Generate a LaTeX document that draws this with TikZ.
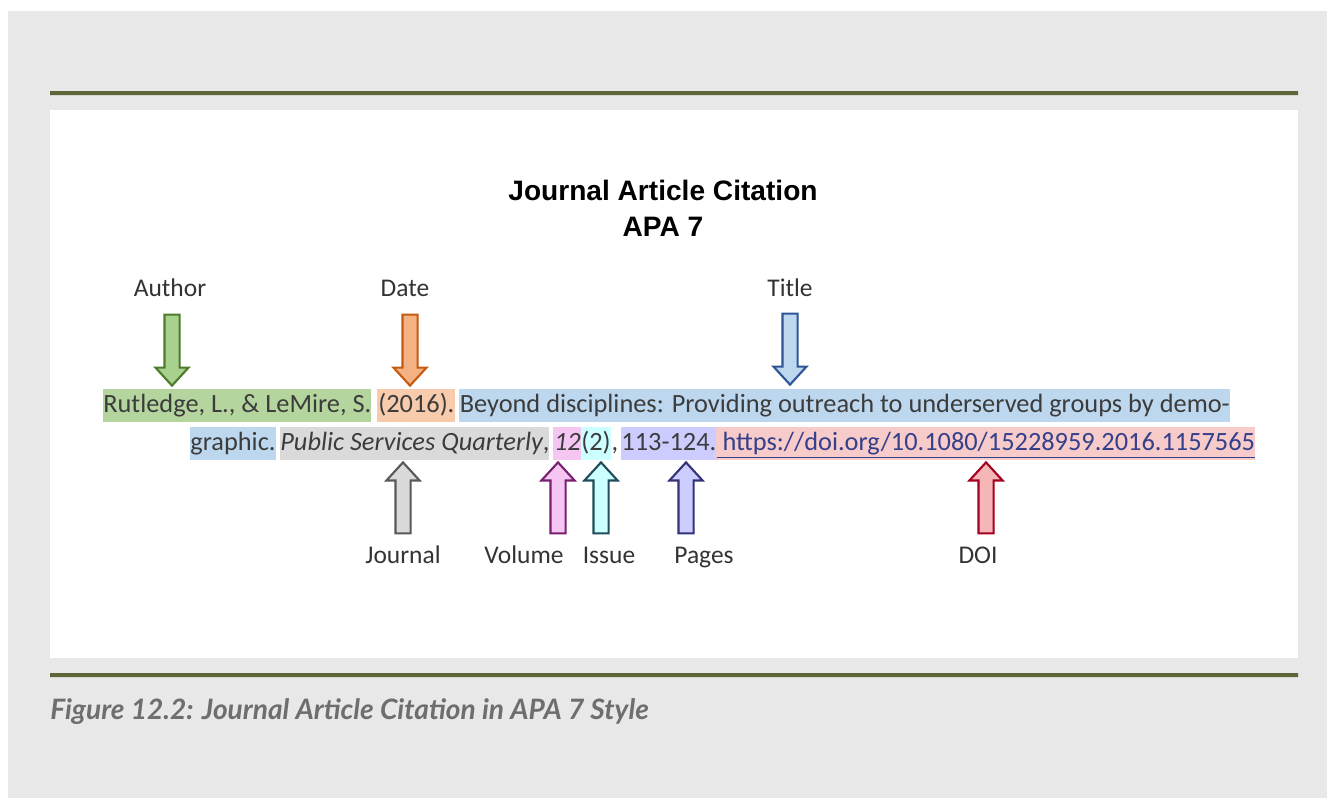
\documentclass[tikz,border=0pt]{standalone}
\usepackage{fontspec}
\setmainfont{Carlito}
\newfontfamily\headfont{Liberation Sans}
\newfontfamily\capfont{Lato}
\usetikzlibrary{shapes.arrows, positioning}

\definecolor{bggray}{HTML}{E8E8E8}
\definecolor{olivebar}{RGB}{94,102,56}
\definecolor{captext}{HTML}{6E6E6E}
\definecolor{citetext}{HTML}{3C3C3C}
\definecolor{lbltext}{HTML}{333333}
\definecolor{doiblue}{HTML}{34408A}
% highlights
\definecolor{hlgreen}{HTML}{B4D69E}
\definecolor{hlorange}{HTML}{F8CBAD}
\definecolor{hlblue}{HTML}{BDD7EE}
\definecolor{hlgray}{HTML}{DADADA}
\definecolor{hlpink}{HTML}{F5C6F2}
\definecolor{hlcyan}{HTML}{CCFFFF}
\definecolor{hlpurple}{HTML}{CCCCFF}
\definecolor{hlred}{HTML}{F8CBCB}
% arrow outlines
\definecolor{dgreen}{HTML}{4E7A2C}
\definecolor{dorange}{HTML}{C55A11}
\definecolor{dblue}{HTML}{2F5597}
\definecolor{dgray}{HTML}{595959}
\definecolor{dpink}{HTML}{7A1F6E}
\definecolor{dcyan}{HTML}{1F4E5A}
\definecolor{dpurple}{HTML}{33337A}
\definecolor{dred}{HTML}{A50021}
\definecolor{fgreen}{HTML}{A9D18E}
\definecolor{forange}{HTML}{F4B183}
\definecolor{fred}{HTML}{F4B6B6}

\def\pu{0.02cm}

\tikzset{
    seg/.style={anchor=west, inner sep=0pt, minimum height=33*\pu, text=citetext,
        text height=11.5pt, text depth=3.5pt, font=\fontsize{15}{18}\selectfont},
    lbl/.style={inner sep=0pt, text=lbltext, text height=10.5pt, text depth=3pt,
        font=\fontsize{14.5}{17}\selectfont},
    blk/.style 2 args={single arrow, fill=#1, draw=#2, line width=1.2pt,
        minimum height=71*\pu, inner sep=6.5*\pu, single arrow head extend=9*\pu,
        single arrow tip angle=85}
}

\begin{document}
\begin{tikzpicture}[x=0.02cm, y=-0.02cm]
        \useasboundingbox (0,0) rectangle (1327,798);
        \fill[bggray] (8,11) rectangle (1327,798);
        \fill[white] (50,110) rectangle (1298,658);
        \fill[olivebar] (50,91) rectangle (1298,95) (50,673) rectangle (1298,677);
        
        \node[font=\headfont\bfseries\fontsize{16}{20}\selectfont] (head) at (663,190) {Journal Article Citation};
        \node[font=\headfont\bfseries\fontsize{16}{20}\selectfont] (apa) at (663,227) {APA 7};
        
        % first line of the reference
        \node[seg, fill=hlgreen, minimum width=267*\pu] (author) at (103,405.5) {Rutledge, L., \& LeMire, S.};
        \node[seg, fill=hlorange, minimum width=78*\pu] (date) at (377,405.5) {(2016).};
        \node[seg, fill=hlblue, minimum width=771*\pu] (title) at (459,405.5) {Beyond disciplines: Providing outreach to underserved groups by demo-};
        
        % second line
        \node[seg, fill=hlblue, minimum width=85*\pu] (titletail) at (190,443.5) {graphic.};
        \node[seg, fill=hlgray, minimum width=264*\pu] (journal) at (280,443.5) {\textit{Public Services Quarterly},};
        \node[seg, fill=hlpink, minimum width=28*\pu] (volume) at (553,443.5) {\textit{12}};
        \node[seg, fill=hlcyan, minimum width=27*\pu] (issue) at (581,443.5) {(2)};
        \node[seg, minimum width=13*\pu] (comma) at (608,443.5) {,};
        \node[seg, fill=hlpurple, minimum width=95*\pu] (pages) at (621,443.5) {113-124.};
        \node[seg, fill=hlred, minimum width=539*\pu] (doi) at (716,443.5) {\textcolor{doiblue}{\underline{\ https://doi.org/10.1080/15228959.2016.1157565}}};
        
        \node[lbl] (lauthor) at (170,290) {Author};
        \node[lbl] (ldate) at (405,290) {Date};
        \node[lbl] (ltitle) at (790,290) {Title};
        \node[blk={fgreen}{dgreen}, rotate=-90] (aauthor) at (172,346) {};
        \node[blk={forange}{dorange}, rotate=-90] (adate) at (410,346) {};
        \node[blk={hlblue}{dblue}, rotate=-90] (atitle) at (790,345) {};
        
        \foreach \n/\x/\lx/\t/\f/\d in {jour/403/403/Journal/hlgray/dgray,
                vol/558/524/Volume/hlpink/dpink,
                iss/601/609/Issue/hlcyan/dcyan,
                pag/686/704/Pages/hlpurple/dpurple,
                doi/986/978/DOI/fred/dred} {
            \node[blk={\f}{\d}, rotate=90] (a\n) at (\x,502) {};
            \node[lbl] (l\n) at (\lx,557) {\t};
        }
        
        \node[anchor=west, inner sep=0pt, text=captext, font=\capfont\bfseries\itshape\fontsize{16}{19}\selectfont] (caption) at (50,712) {Figure 12.2: Journal Article Citation in APA 7 Style};
        
    \end{tikzpicture}
\end{document}
